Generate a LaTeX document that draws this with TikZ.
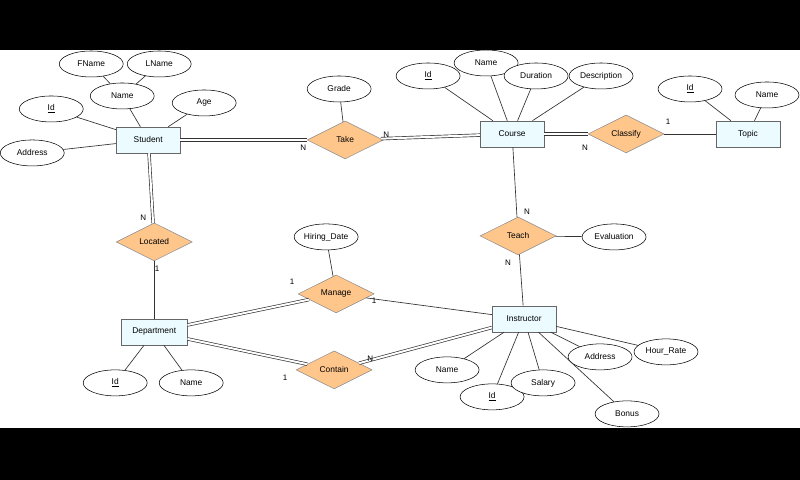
\documentclass[tikz,border=0pt]{standalone}
\usepackage{fontspec}
\setmainfont{Liberation Sans}
\usetikzlibrary{shapes.geometric}
\begin{document}
\begin{tikzpicture}[x=0.75pt,y=-0.75pt,
 every node/.style={font=\fontsize{6.3}{7}\selectfont},
 ent/.style={draw=black!60,fill=blue!18!cyan!8,minimum width=48pt,minimum height=19.5pt,inner sep=0pt},
 rel/.style={diamond,draw=black!45,fill=orange!45,minimum width=57pt,minimum height=28.5pt,aspect=2,inner sep=0pt},
 att/.style={ellipse,draw=black,fill=white,minimum width=48pt,minimum height=19.5pt,inner sep=0pt},
 ln/.style={draw=black!80,line width=0.5pt},
 dbl/.style={draw=black!80,double=white,double distance=1.5pt,line width=0.5pt},
 lb/.style={font=\fontsize{6}{7}\selectfont}]
\fill[black] (0,0) rectangle (800,480);
\fill[white] (0,50) rectangle (800,428);
% entities
\node[ent] (stu) at (148,140) {Student};
\node[ent] (cou) at (512,134) {Course};
\node[ent] (top) at (748,134) {Topic};
\node[ent,minimum width=49.5pt] (dep) at (154,332) {Department};
\node[ent] (ins) at (524,319) {Instructor};
% relations
\node[rel] (take) at (345,140) {Take};
\node[rel] (cla) at (626,134) {Classify};
\node[rel] (loc) at (154,242) {Located};
\node[rel] (tea) at (518,236) {Teach};
\node[rel] (man) at (336,294) {Manage};
\node[rel] (con) at (334,370) {Contain};
% attributes
\node[att] (fn) at (91,64) {FName};
\node[att] (lnm) at (159,64) {LName};
\node[att] (sn) at (122,96) {Name};
\node[att] (age) at (204,103) {Age};
\node[att] (sid) at (51,109) {\underline{Id}};
\node[att] (sad) at (32,153) {Address};
\node[att] (gr) at (339,89) {Grade};
\node[att] (cid) at (428,76) {\underline{Id}};
\node[att] (cn) at (486,63) {Name};
\node[att] (cdu) at (536,76) {Duration};
\node[att] (cde) at (601,76) {Description};
\node[att] (tid) at (690,89) {\underline{Id}};
\node[att] (tn) at (767,95) {Name};
\node[att] (hd) at (326,237) {Hiring\_Date};
\node[att] (ev) at (614,237) {Evaluation};
\node[att] (did) at (115,383) {\underline{Id}};
\node[att] (dn) at (191,383) {Name};
\node[att] (in) at (447,370) {Name};
\node[att] (iid) at (492,397) {\underline{Id}};
\node[att] (isa) at (543,383) {Salary};
\node[att] (iad) at (600,357) {Address};
\node[att] (ihr) at (666,352) {Hour\_Rate};
\node[att] (ibo) at (627,414) {Bonus};
% attribute lines
\begin{scope}[on background layer/.style={}]
\draw[ln] (fn) -- (sn); \draw[ln] (lnm) -- (sn);
\draw[ln] (sn) -- (stu); \draw[ln] (age) -- (stu);
\draw[ln] (sid) -- (stu); \draw[ln] (sad) -- (stu);
\draw[ln] (gr) -- (take);
\draw[ln] (cid) -- (cou); \draw[ln] (cn) -- (cou);
\draw[ln] (cdu) -- (cou); \draw[ln] (cde) -- (cou);
\draw[ln] (tid) -- (top); \draw[ln] (tn) -- (top);
\draw[ln] (hd) -- (man); \draw[ln] (ev) -- (tea);
\draw[ln] (did) -- (dep); \draw[ln] (dn) -- (dep);
\draw[ln] (in) -- (ins); \draw[ln] (iid) -- (ins); \draw[ln] (isa) -- (ins);
\draw[ln] (iad) -- (ins); \draw[ln] (ihr) -- (ins); \draw[ln] (ibo) -- (ins);
\end{scope}
% relationship lines
\draw[dbl] (stu) -- (take);
\draw[dbl] (take) -- (cou);
\draw[dbl] (cou) -- (cla);
\draw[ln] (cla) -- (top);
\draw[dbl] (stu) -- (loc);
\draw[ln] (loc) -- (dep);
\draw[ln] (cou) -- (tea);
\draw[ln] (tea) -- (ins);
\draw[dbl] (dep) -- (man);
\draw[ln] (man) -- (ins);
\draw[dbl] (dep) -- (con);
\draw[dbl] (con) -- (ins);
% cardinalities
\node[lb] (c1) at (303,148) {N};
\node[lb] (c2) at (386,135) {N};
\node[lb] (c3) at (585,148) {N};
\node[lb] (c4) at (668,122) {1};
\node[lb] (c5) at (143,218) {N};
\node[lb] (c6) at (157,269) {1};
\node[lb] (c7) at (527,212) {N};
\node[lb] (c8) at (508,263) {N};
\node[lb] (c9) at (292,282) {1};
\node[lb] (c10) at (374,301) {1};
\node[lb] (c11) at (285,378) {1};
\node[lb] (c12) at (370,359) {N};
\end{tikzpicture}
\end{document}
